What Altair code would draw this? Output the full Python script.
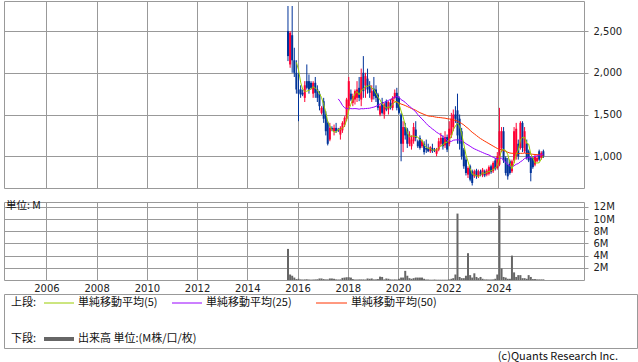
import altair as alt
import pandas as pd

# ---------------- data ----------------
months = pd.date_range("2015-08-01", periods=123, freq="MS")
dates = [(d + pd.Timedelta(days=14)).strftime("%Y-%m-%d") for d in months]

opens = [2500,2100,2450,2150,2000,1800,1800,1760,1700,1900,
         1900,1880,1750,1880,1800,1750,1520,1660,1500,1400,
         1200,1340,1300,1340,1320,1260,1310,1380,1450,1600,
         1750,1640,1680,1700,1820,1680,2000,1850,1930,1850,
         1680,1810,1800,1740,1500,1650,1500,1660,1560,1640,
         1580,1700,1760,1700,1500,1150,1350,1320,1150,1120,
         1180,1320,1180,1220,1120,1150,1100,1100,1060,1100,
         1080,1030,1080,1150,1220,1130,1230,1150,1250,1350,
         1500,1550,1450,1300,1080,960,780,880,820,760,
         830,760,820,770,820,780,790,880,820,950,
         860,900,1100,1300,980,900,940,820,950,1000,
         1150,1100,1400,1060,1150,1060,980,980,900,940,
         1060,980,1060]
highs = [2800,2500,2800,2300,2150,2000,1850,1800,1900,2100,
         1980,1900,1900,1950,1850,1780,1600,1700,1540,1420,
         1400,1360,1380,1400,1340,1360,1420,1480,1700,1950,
         1800,1750,1800,1900,1950,2050,2200,2000,2050,1900,
         1850,1950,1850,1760,1620,1700,1640,1680,1660,1680,
         1720,1800,1820,1720,1520,1420,1400,1340,1300,1250,
         1400,1420,1200,1250,1200,1180,1200,1150,1120,1150,
         1100,1100,1220,1280,1250,1300,1260,1420,1520,1560,
         1600,1750,1500,1340,1100,990,880,900,840,840,
         850,840,840,860,840,850,890,900,940,980,
         1050,1580,1350,1350,1000,980,960,960,1350,1400,
         1200,1420,1420,1350,1200,1080,1000,1000,1020,1000,
         1080,1060,1080]
lows = [2140,2060,2000,1950,1750,1420,1700,1720,1650,1800,
        1750,1800,1700,1700,1650,1550,1500,1400,1250,1130,
        1180,1300,1250,1280,1290,1200,1280,1350,1420,1550,
        1660,1600,1620,1650,1660,1600,1700,1700,1750,1700,
        1650,1680,1650,1550,1480,1500,1450,1540,1500,1560,
        1550,1680,1550,1500,940,1050,1200,1100,1120,1080,
        1150,1180,1100,1080,1100,1020,1040,1050,1040,1040,
        1050,1000,1060,1120,1080,1100,1050,1120,1220,1300,
        1400,1150,1080,960,850,770,740,700,650,740,
        730,740,760,750,750,760,770,790,800,830,
        840,880,1050,920,770,720,780,800,920,960,
        960,1080,1050,1040,960,930,700,850,880,930,
        940,960,980]
closes = [2200,2480,2150,2000,1800,1750,1740,1740,1850,1820,
          1800,1820,1880,1760,1700,1600,1580,1450,1300,1150,
          1340,1320,1340,1300,1310,1340,1400,1460,1680,1900,
          1680,1720,1780,1800,1700,1950,1780,1960,1800,1760,
          1780,1720,1700,1580,1600,1520,1620,1560,1650,1580,
          1700,1760,1580,1520,1150,1350,1250,1150,1260,1200,
          1350,1220,1120,1100,1180,1050,1080,1060,1110,1060,
          1070,1080,1180,1220,1120,1230,1080,1330,1450,1500,
          1450,1250,1150,1000,880,800,860,720,680,820,
          760,820,780,840,770,830,870,810,920,850,
          1000,1300,1300,950,800,760,800,940,1300,1330,
          1000,1400,1100,1300,980,950,800,870,1000,980,
          960,1040,1000]
volumes = [5.1,0.9,0.7,0.4,0.15,0.2,0.1,0.08,0.1,0.12,
           0.08,0.06,0.08,0.1,0.12,0.25,0.25,0.15,0.1,0.1,
           0.25,0.25,0.2,0.1,0.08,0.1,0.35,0.4,0.45,0.45,
           0.4,0.15,0.08,0.08,0.1,0.1,0.1,0.08,0.25,0.2,
           0.25,0.1,0.1,0.15,0.55,0.5,0.1,0.25,0.2,0.1,
           0.08,0.1,0.08,0.2,0.4,0.4,1.5,0.7,0.3,0.2,
           0.3,0.4,0.4,0.4,0.4,0.2,0.08,0.08,0.05,0.05,
           0.08,0.05,0.05,0.05,0.05,0.05,0.05,0.1,0.2,0.3,
           0.9,10.9,0.5,0.3,0.3,0.7,4.4,0.8,0.4,1.1,
           0.5,0.3,0.5,0.2,0.1,0.1,0.08,0.08,0.1,0.2,
           0.9,12.2,1.9,0.5,0.4,0.2,0.2,4.0,1.25,0.5,
           0.8,0.8,0.3,0.3,0.2,0.8,0.5,0.15,0.15,0.1,
           0.1,0.1,0.1]

year_ticks = list(range(2006, 2026, 2))
price_ticks = [1000, 1500, 2000, 2500]
volume_ticks = [2, 4, 6, 8, 10, 12]

unit_label = "単位: M"
upper_label = "上段:"
lower_label = "下段:"
ma_labels = ["単純移動平均(5)", "単純移動平均(25)", "単純移動平均(50)"]
volume_label = "出来高 単位:(M株/口/枚)"
copyright_label = "(c)Quants Research Inc."

df = pd.DataFrame({"date": dates, "open": opens, "high": highs,
                   "low": lows, "close": closes, "vol": volumes})

# ---------------- styles ----------------
RED = "#ff0033"
BLUE = "#003399"
GREEN = "#99cc00"
PURPLE = "#9900ff"
ORANGE = "#ff3300"
GRID = "#999999"
FONT = "DejaVu Sans"
JFONT = "Noto Sans CJK JP"

xscale = alt.Scale(domain=[alt.DateTime(year=2004, month=7, date=6),
                           alt.DateTime(year=2027, month=3, date=17)])
year_values = [alt.DateTime(year=y, month=1, date=1) for y in year_ticks]

x_top = alt.X("date:T", scale=xscale,
              axis=alt.Axis(values=year_values, grid=True, labels=False,
                            ticks=False, domain=False, title=None,
                            gridColor=GRID))
y_scale = alt.Scale(domain=[620, 2860], nice=False, zero=False)
y_axis = alt.Axis(orient="right", values=price_ticks, format=",d", grid=True,
                  gridColor=GRID, tickColor=GRID, tickSize=4, domain=False,
                  labelPadding=5, title=None)

base = alt.Chart(df).encode(x=x_top).transform_calculate(
    dir="datum.close >= datum.open ? 'up' : 'down'")
color = alt.Color("dir:N", scale=alt.Scale(domain=["up", "down"], range=[RED, BLUE]),
                  legend=None)

wick = base.mark_rule(strokeWidth=1).encode(
    y=alt.Y("low:Q", scale=y_scale, axis=y_axis), y2="high:Q", color=color)
body = base.mark_bar(size=2).encode(
    y=alt.Y("open:Q", scale=y_scale), y2="close:Q", color=color)


def ma_line(n, col):
    return alt.Chart(df).transform_window(
        ma="mean(close)", cnt="count(close)", frame=[-(n - 1), 0],
        sort=[alt.SortField("date")]
    ).transform_filter(f"datum.cnt >= {n}").mark_line(
        color=col, strokeWidth=1, interpolate="linear"
    ).encode(x=x_top, y=alt.Y("ma:Q", scale=y_scale))


top = alt.layer(wick, body, ma_line(50, ORANGE), ma_line(25, PURPLE),
                ma_line(5, GREEN)).properties(width=580, height=187)

# ---------------- volume panel ----------------
x_bot = alt.X("date:T", scale=xscale,
              axis=alt.Axis(values=year_values, grid=True, format="%Y",
                            ticks=False, domain=False, title=None,
                            gridColor=GRID, labelPadding=3))
vol = alt.Chart(df).mark_bar(size=2, color="#666666").encode(
    x=x_bot,
    y=alt.Y("vol:Q", scale=alt.Scale(domain=[0, 12.8], nice=False),
            axis=alt.Axis(orient="right", values=volume_ticks,
                          labelExpr="datum.value + 'M'", grid=True,
                          gridColor=GRID, tickColor=GRID, tickSize=4,
                          domain=False, labelPadding=5, title=None)))
unit = alt.Chart(pd.DataFrame({"t": [unit_label]})).mark_text(
    align="left", baseline="middle", font=JFONT, fontSize=10.5, color="#111"
).encode(text="t:N", x=alt.value(2), y=alt.value(4))
bottom = alt.layer(vol, unit).properties(width=580, height=78)

# ---------------- legend box ----------------
one = pd.DataFrame({"k": [0]})


def label(txt, x, y, align="left", size=11):
    return alt.Chart(pd.DataFrame({"t": [txt]})).mark_text(
        align=align, baseline="middle", font=JFONT, fontSize=size, color="#111"
    ).encode(text="t:N", x=alt.value(x), y=alt.value(y))


def seg(x1, x2, y, col, w):
    return alt.Chart(one).mark_rule(color=col, strokeWidth=w).encode(
        x=alt.value(x1), x2=alt.value(x2), y=alt.value(y))


row1, row2 = 9, 45
legend = alt.layer(
    label(upper_label, 7, row1),
    seg(40, 70, row1, GREEN, 1), label(ma_labels[0], 74, row1),
    seg(168, 198, row1, PURPLE, 1), label(ma_labels[1], 202, row1),
    seg(312, 343, row1, ORANGE, 1), label(ma_labels[2], 347, row1),
    label(lower_label, 7, row2),
    seg(40, 70, row2, "#666666", 4), label(volume_label, 74, row2),
    label(copyright_label, 614, 63, align="right", size=11),
).properties(width=633, height=54)

chart = alt.vconcat(top, bottom, legend, spacing=0).resolve_scale(
    x="shared"
)
chart = alt.VConcatChart(
    vconcat=[top, bottom.properties(), legend],
    spacing=14, bounds="flush"
).configure(
    padding={"left": 3, "top": 0, "right": 0, "bottom": 0},
    background="white",
).configure_view(
    stroke=GRID, strokeWidth=1
).configure_axis(
    labelFont=FONT, labelFontSize=10, labelColor="#222"
)

chart.save("out.html", embed_options={"renderer": "svg", "actions": False})
